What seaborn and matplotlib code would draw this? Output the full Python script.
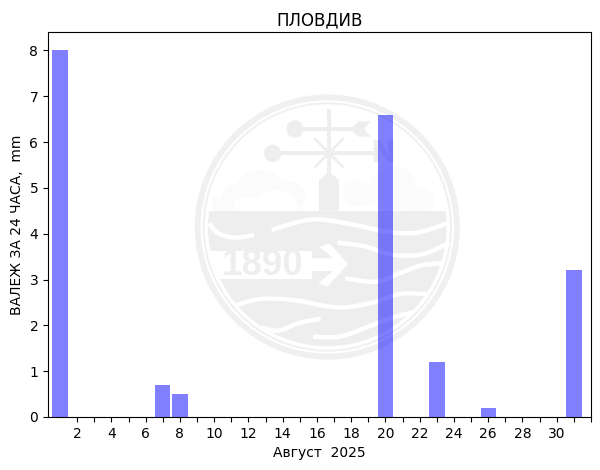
import numpy as np
import matplotlib
matplotlib.use("Agg")
import matplotlib.pyplot as plt
from matplotlib.patches import Circle, Rectangle, Polygon, Ellipse, PathPatch
from matplotlib.path import Path
import seaborn as sns

days = list(range(1, 32))
rain = [8.0, 0, 0, 0, 0, 0, 0.7, 0.5, 0, 0, 0, 0, 0, 0, 0, 0, 0, 0, 0, 6.6,
        0, 0, 1.2, 0, 0, 0.2, 0, 0, 0, 0, 3.2]
tick_days = list(range(2, 33))
tick_labels = [str(d) if d % 2 == 0 and d < 32 else "" for d in tick_days]

GREY = "#eeeeee"
RING = "#f0f0f0"
PALE = "#fbfbfb"


def wave(ax, pts, lw=3.2):
    # smooth white stripe through the given points (catmull-rom to bezier)
    p = np.array(pts, dtype=float)
    p = np.vstack([p[0], p, p[-1]])
    verts = [p[1]]
    codes = [Path.MOVETO]
    for i in range(1, len(p) - 2):
        verts += [p[i] + (p[i + 1] - p[i - 1]) / 6, p[i + 1] - (p[i + 2] - p[i]) / 6, p[i + 1]]
        codes += [Path.CURVE4] * 3
    ax.add_patch(PathPatch(Path(verts, codes), fc="none", ec="white", lw=lw, zorder=5,
                           capstyle="butt"))


def draw_watermark(ax):
    cx, cy = 412, 411
    ax.add_patch(Circle((cx, cy), 389, fc="none", ec=RING, lw=4.2))
    ax.add_patch(Circle((cx, cy), 371, fc="none", ec=RING, lw=1.4))

    # lower half filled, clipped to the inner circle
    clip = Circle((cx, cy), 358, transform=ax.transData)
    low = Rectangle((0, 362), 830, 450, fc=GREY, ec="none", zorder=2)
    ax.add_patch(low)
    low.set_clip_path(clip)

    # clouds
    for x, y, w, h in [(210, 305, 150, 130), (135, 320, 80, 76), (295, 318, 105, 90),
                       (610, 295, 140, 134), (500, 310, 85, 76), (685, 330, 100, 74)]:
        ax.add_patch(Ellipse((x, y), w, h, fc=PALE, ec="none", zorder=1))
    ax.add_patch(Rectangle((65, 320), 260, 42, fc=PALE, ec="none", zorder=1))
    ax.add_patch(Rectangle((480, 322), 255, 24, fc=PALE, ec="none", zorder=1))
    for x, y, w, h in [(262, 345, 120, 90), (175, 350, 90, 60)]:
        ax.add_patch(Ellipse((x, y), w, h, fc="white", ec="none", zorder=1.5))

    # tower and vane
    ax.add_patch(Polygon([(387, 362), (387, 270), (417, 245), (447, 270), (447, 362)],
                         fc=GREY, ec="none", zorder=3))
    ax.plot([417, 417], [63, 250], color=GREY, lw=2.8, zorder=3)
    ax.plot([315, 500], [117, 117], color=GREY, lw=2.8, zorder=3)
    ax.plot([248, 550], [190, 190], color=GREY, lw=2.8, zorder=3)
    ax.plot([376, 458], [148, 230], color=GREY, lw=2, zorder=3)
    ax.plot([376, 458], [230, 148], color=GREY, lw=2, zorder=3)
    ax.add_patch(Circle((315, 117), 26, fc=GREY, ec="none", zorder=3))
    ax.add_patch(Circle((248, 190), 26, fc=GREY, ec="none", zorder=3))
    ax.add_patch(Polygon([(480, 117), (505, 94), (542, 94), (522, 117), (542, 140), (505, 140)],
                         fc=GREY, ec="none", zorder=3))
    ax.text(580, 190, "N", color=GREY, fontsize=22, fontweight="bold", ha="center",
            va="center", zorder=3)

    # waves
    wave(ax, [(57, 400), (85, 430), (135, 443), (192, 435)])
    wave(ax, [(245, 420), (310, 400), (380, 388), (480, 402), (590, 425), (680, 428), (778, 398)])
    wave(ax, [(442, 458), (520, 468), (610, 495), (700, 492), (778, 458)])
    wave(ax, [(465, 565), (560, 575), (640, 545), (700, 525), (762, 520)])
    wave(ax, [(140, 645), (210, 627), (310, 630), (440, 652), (540, 640), (630, 612), (715, 612)])
    wave(ax, [(215, 712), (265, 722), (330, 698), (392, 686)])
    wave(ax, [(370, 740), (450, 740), (540, 708), (610, 682), (668, 668)])

    # 1890 band and arrow
    ax.add_patch(Polygon([(60, 483), (365, 483), (365, 567), (85, 567)], fc="white",
                         ec="none", zorder=4))
    ax.add_patch(Rectangle((204, 405), 30, 80, fc=GREY, ec="none", zorder=4))
    ax.add_patch(Polygon([(360, 505), (430, 505), (388, 470), (418, 460), (475, 522),
                          (412, 590), (385, 580), (430, 543), (360, 543)],
                         fc="white", ec="none", zorder=4))
    ax.text(218, 527, "1890", color=GREY, fontsize=26.5, fontweight="bold",
            family="Liberation Sans", ha="center", va="center", zorder=5)


fig = plt.figure(figsize=(6, 4.7), dpi=100)

wm = fig.add_axes([0, 0, 1, 1], zorder=0)
wm.set_xlim(-570, 1230)
wm.set_ylim(1140, -270)
wm.axis("off")
draw_watermark(wm)

ax = fig.add_axes([48 / 600, 1 - 417 / 470, 543 / 600, 385 / 470], zorder=1)
ax.patch.set_alpha(0)
sns.barplot(x=days, y=rain, native_scale=True, color="blue", saturation=1, alpha=0.5,
            width=0.9, ax=ax)

ax.set_xlim(0.3, 32)
ax.set_ylim(0, 8.4)
ax.set_xticks(tick_days)
ax.set_xticklabels(tick_labels)
ax.set_yticks(range(0, 9))
ax.tick_params(labelsize=10)
ax.set_title("ПЛОВДИВ", fontsize=12, pad=5)
ax.set_xlabel("Август  2025", fontsize=10)
ax.set_ylabel("ВАЛЕЖ ЗА 24 ЧАСА,  mm", fontsize=10)

fig.savefig("out.png", dpi=100)
